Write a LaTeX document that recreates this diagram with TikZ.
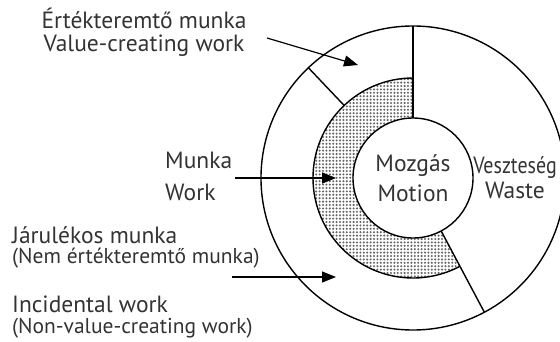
\documentclass[tikz,border=0pt]{standalone}
\usepackage{fontspec}
\setmainfont{PT Sans}
\usetikzlibrary{arrows.meta,patterns.meta,calc}
\definecolor{txtgray}{HTML}{333333}
\newcommand\subsize{\fontsize{21.5}{21}\selectfont}

\tikzset{
  ring/.style={line width=1.4pt},
  pointer/.style={line width=1.2pt, -{Triangle[length=14pt,width=11pt]}},
  lbl/.style={text=txtgray, font=\fontsize{23.5}{23}\selectfont, inner sep=0pt}
}

\begin{document}
\begin{tikzpicture}[x=1pt,y=1pt]
            \useasboundingbox (0,0) rectangle (560,341);
            \coordinate (c) at (413,163);

            % dotted work band
            \fill[pattern={Dots[distance=3.4pt,radius=1.15pt]}, pattern color=black!60]
                ($(c)+(90:100)$) arc[start angle=90, end angle=298, radius=100]
                -- ($(c)+(298:60)$) arc[start angle=298, end angle=90, radius=60] -- cycle;

            % rings
            \draw[ring] (c) circle[radius=152];
            \draw[ring] ($(c)+(90:100)$) arc[start angle=90, end angle=298, radius=100];
            \draw[ring] (c) circle[radius=60];
            \foreach \a/\r in {90/60, 298/60, 133.5/100} {
                \draw[ring] ($(c)+(\a:\r)$) -- ($(c)+(\a:152)$);
            }

            % centre texts
            \node[lbl, align=center] (motion) at (413,163) {Mozgás\\[7pt]Motion};
            \node[lbl, align=center] (waste) at (515,163) {\scalebox{0.85}[1]{Veszteség}\\[2pt]Waste};

            % value-creating work
            \node[lbl, align=center] (vcwork) at (144,309) {Értékteremtő munka\\Value-creating work};
            \coordinate (vcfrom) at (267,303);
            \coordinate (vcto) at (358,276);
            \draw[pointer] (vcfrom) -- (vcto);

            % work
            \node[lbl, align=left, anchor=west] (work) at (165,165) {Munka\\[9pt]Work};
            \coordinate (wfrom) at (235,163);
            \coordinate (wto) at (336,163);
            \draw[pointer] (wfrom) -- (wto);

            % incidental work
            \node[lbl, align=left, anchor=west] (inchu) at (12,94)
                {Járulékos munka\\[-3pt]{\subsize (Nem értékteremtő munka)}};
            \node[lbl, align=left, anchor=west] (incen) at (12,24)
                {Incidental work\\[-2pt]{\subsize (Non-value-creating work)}};
            \coordinate (ifrom) at (232,64);
            \coordinate (ito) at (336,64);
            \draw[pointer] (ifrom) -- (ito);
\end{tikzpicture}
\end{document}
